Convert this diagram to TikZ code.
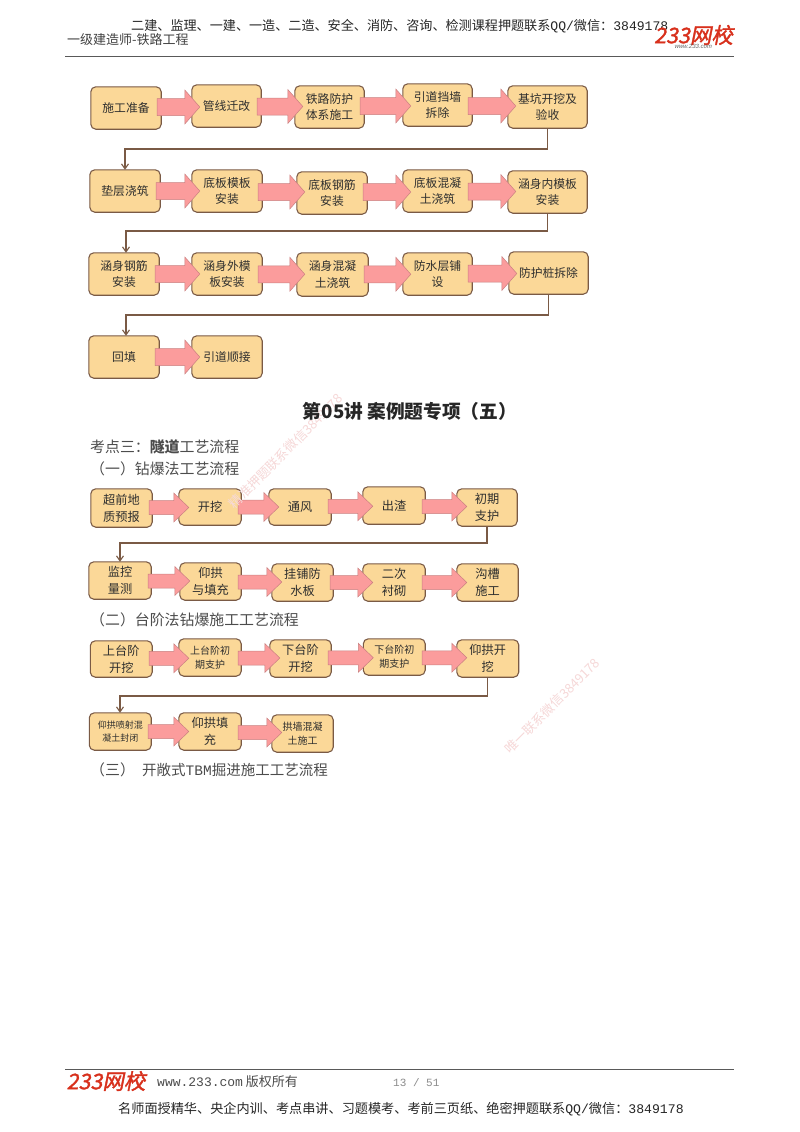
\documentclass[tikz,border=0pt]{standalone}
\usepackage{fontspec}
\setmainfont{Noto Sans CJK SC}
\newfontfamily\lat{Liberation Mono}
\newfontfamily\logof[FakeSlant=0.2,FakeBold=1.5]{Noto Sans CJK SC}
\newfontfamily\latsans[FakeSlant=0.2]{Liberation Sans}
\usetikzlibrary{calc,arrows.meta}
\pgfdeclarelayer{boxlayer}
\pgfdeclarelayer{arrowlayer}
\pgfsetlayers{boxlayer,arrowlayer,main}
\definecolor{boxfill}{HTML}{FBD898}
\definecolor{boxline}{HTML}{7A5A45}
\definecolor{arrfill}{HTML}{FB9C9C}
\definecolor{arrline}{HTML}{C98080}
\definecolor{wm}{HTML}{F6D8D8}
\definecolor{logored}{HTML}{D8301C}
\tikzset{
 flowbox/.style={draw=boxline,fill=boxfill,line width=1.1pt,rounded corners=5pt},
 flowtext/.style={inner sep=0pt,align=center,text=black!82},
 blockarrow/.style={fill=arrfill,draw=arrline,line width=.5pt},
 link/.style={draw=boxline,line width=1.1pt,-{Straight Barb[length=5pt,width=7pt]}},
 rule/.style={draw=black!65,line width=1pt},
 para/.style={anchor=west,text=black!70,font=\fontsize{14.9}{17}\selectfont,inner sep=0pt},
 wmark/.style={text=wm,rotate=45,font=\fontsize{13}{15}\selectfont,inner sep=0pt},
 logo/.style={text=logored,font=\fontsize{21.5}{23}\selectfont\logof,inner sep=0pt},
 txt/.style={inner sep=0pt},
}
% name, x1, y1, x2, y2, font size, text
\newcommand\bx[7]{\pgfmathsetmacro\ls{#6*1.38}\node[flowtext,minimum width={(#4-#2)*1pt},minimum height={(#5-#3)*1pt},
  font=\fontsize{#6}{\ls}\selectfont] (#1) at ({(#2+#4)/2},{(#3+#5)/2}) {#7};
  \begin{pgfonlayer}{boxlayer}\draw[flowbox] (#1.north west) rectangle (#1.south east);\end{pgfonlayer}}
\newcommand\barrow[2]{\begin{pgfonlayer}{arrowlayer}\draw[blockarrow] let \p1=(#1.east),\p2=(#2.west),\n1={(\y1+\y2)/2} in
 (\x1-\back pt,\n1-\sh pt) -- (\x2+\over pt-\hl pt,\n1-\sh pt) -- (\x2+\over pt-\hl pt,\n1-\hh pt)
 -- (\x2+\over pt,\n1) -- (\x2+\over pt-\hl pt,\n1+\hh pt) -- (\x2+\over pt-\hl pt,\n1+\sh pt)
 -- (\x1-\back pt,\n1+\sh pt) -- cycle;\end{pgfonlayer}}
\begin{document}
\begin{tikzpicture}[x=1pt,y=-1pt]
\useasboundingbox (0,0) rectangle (800,1132);
\begin{pgfonlayer}{boxlayer}\fill[white] (0,0) rectangle (800,1132);\end{pgfonlayer}
% header
\node[txt,anchor=west,font=\fontsize{13.1}{15}\selectfont,text=black!85] (hd) at (131,26) {二建、监理、一建、一造、二造、安全、消防、咨询、检测课程押题联系{\lat QQ/}微信：{\lat 3849178}};
\node[txt,anchor=west,font=\fontsize{13}{15}\selectfont,text=black!75] (hl) at (67,40) {一级建造师-铁路工程};
\node[logo,anchor=center] (lg1) at (693.5,35) {233网校};
\node[txt,font=\fontsize{6}{7}\selectfont\latsans,text=black!60] (lg1b) at (693,46) {www.233.com};
\coordinate (ra) at (65,57); \coordinate (rb) at (734,57);
\draw[rule] (ra) -- (rb);
% watermarks
\node[wmark] (w1) at (286,451) {精准押题联系微信3849178};
\node[wmark] (w2) at (552,706) {唯一联系微信3849178};
% section 1
\bx{a1}{91}{87}{161}{129}{11.8}{施工准备}
\bx{a2}{192}{85}{261}{127}{11.8}{管线迁改}
\bx{a3}{295}{86}{364}{128}{11.8}{铁路防护\\体系施工}
\bx{a4}{403}{84}{472}{126}{11.8}{引道挡墙\\拆除}
\bx{a5}{508}{86}{587}{128}{11.8}{基坑开挖及\\验收}
\bx{b1}{90}{170}{160}{212}{11.8}{垫层浇筑}
\bx{b2}{192}{170}{262}{212}{11.8}{底板模板\\安装}
\bx{b3}{297}{172}{367}{214}{11.8}{底板钢筋\\安装}
\bx{b4}{403}{170}{472}{212}{11.8}{底板混凝\\土浇筑}
\bx{b5}{508}{171}{587}{213}{11.8}{涵身内模板\\安装}
\bx{c1}{89}{253}{159}{295}{11.8}{涵身钢筋\\安装}
\bx{c2}{192}{253}{262}{295}{11.8}{涵身外模\\板安装}
\bx{c3}{297}{253}{368}{296}{11.8}{涵身混凝\\土浇筑}
\bx{c4}{403}{253}{472}{295}{11.8}{防水层铺\\设}
\bx{c5}{509}{252}{588}{294}{11.8}{防护桩拆除}
\bx{d1}{89}{336}{159}{378}{11.8}{回填}
\bx{d2}{192}{336}{262}{378}{11.8}{引道顺接}
\def\back{4}\def\over{8}\def\sh{8.5}\def\hh{17}\def\hl{15}
\barrow{a1}{a2}\barrow{a2}{a3}\barrow{a3}{a4}\barrow{a4}{a5}
\barrow{b1}{b2}\barrow{b2}{b3}\barrow{b3}{b4}\barrow{b4}{b5}
\barrow{c1}{c2}\barrow{c2}{c3}\barrow{c3}{c4}\barrow{c4}{c5}
\barrow{d1}{d2}
\coordinate (t1) at (125,149); \coordinate (t2) at (126,231); \coordinate (t3) at (126,315);
\draw[link] (a5.south) -- (a5.south |- t1) -- (t1) -- (t1 |- b1.north);
\draw[link] (b5.south) -- (b5.south |- t2) -- (t2) -- (t2 |- c1.north);
\draw[link] (c5.south) -- (c5.south |- t3) -- (t3) -- (t3 |- d1.north);
% texts
\node[txt,font=\fontsize{18.7}{20}\selectfont\bfseries,text=black!85] (title) at (410,411) {第05讲\ 案例题专项（五）};
\node[para] (p1) at (90,447) {考点三：\textbf{隧道}工艺流程};
\node[para] (p2) at (90,469) {（一）钻爆法工艺流程};
% section 2
\bx{e1}{91}{489}{152}{527}{12.2}{超前地\\质预报}
\bx{e2}{179}{489}{241}{525}{12.2}{开挖}
\bx{e3}{269}{489}{331}{525}{12.2}{通风}
\bx{e4}{363}{487}{425}{524}{12.2}{出渣}
\bx{e5}{457}{489}{517}{526}{12.2}{初期\\支护}
\bx{f1}{89}{562}{151}{599}{12.2}{监控\\量测}
\bx{f2}{180}{563}{241}{600}{12.2}{仰拱\\与填充}
\bx{f3}{272}{564}{333}{601}{12.2}{挂铺防\\水板}
\bx{f4}{363}{564}{425}{601}{12.2}{二次\\衬砌}
\bx{f5}{457}{564}{518}{601}{12.2}{沟槽\\施工}
\def\back{3}\def\over{10}\def\sh{7}\def\hh{14.5}\def\hl{15}
\barrow{e1}{e2}\barrow{e2}{e3}\barrow{e3}{e4}\barrow{e4}{e5}
\barrow{f1}{f2}\barrow{f2}{f3}\barrow{f3}{f4}\barrow{f4}{f5}
\coordinate (t4) at (120,543); \coordinate (t5) at (120,696);
\draw[link] (e5.south) -- (e5.south |- t4) -- (t4) -- (t4 |- f1.north);
\node[para] (p3) at (90,620) {（二）台阶法钻爆施工工艺流程};
% section 3
\bx{g1}{90.5}{641}{152}{677}{12.2}{上台阶\\开挖}
\bx{g2}{179}{639}{241}{676}{10}{上台阶初\\期支护}
\bx{g3}{270}{640}{331}{677}{12.2}{下台阶\\开挖}
\bx{g4}{363.5}{639}{425}{675}{10}{下台阶初\\期支护}
\bx{g5}{457}{640}{518.5}{677}{12.2}{仰拱开\\挖}
\bx{h1}{89.5}{713}{151}{750}{9}{仰拱喷射混\\凝土封闭}
\bx{h2}{179}{713}{241}{750}{12.2}{仰拱填\\充}
\bx{h3}{272}{715}{333}{752}{10}{拱墙混凝\\土施工}
\barrow{g1}{g2}\barrow{g2}{g3}\barrow{g3}{g4}\barrow{g4}{g5}
\barrow{h1}{h2}\barrow{h2}{h3}
\draw[link] (g5.south) -- (g5.south |- t5) -- (t5) -- (t5 |- h1.north);
\node[para] (p4) at (90,770) {（三）};
\node[para,font=\fontsize{14.5}{17}\selectfont] (p4b) at (142,770) {开敞式{\lat TBM}掘进施工工艺流程};
% footer
\coordinate (rc) at (65,1069); \coordinate (rd) at (734,1069);
\draw[rule] (rc) -- (rd);
\node[logo,anchor=center] (lg2) at (106,1081) {233网校};
\node[txt,anchor=west,font=\fontsize{13}{14}\selectfont,text=black!70] (ft1) at (157,1082) {{\lat www.233.com} 版权所有};
\node[txt,anchor=west,font=\fontsize{11}{14}\selectfont\lat,text=black!45] (ft2) at (393,1083) {13 / 51};
\node[txt,anchor=west,font=\fontsize{13.15}{15}\selectfont,text=black!85] (ft3) at (118,1109) {名师面授精华、央企内训、考点串讲、习题模考、考前三页纸、绝密押题联系{\lat QQ/}微信：{\lat 3849178}};
\end{tikzpicture}
\end{document}
